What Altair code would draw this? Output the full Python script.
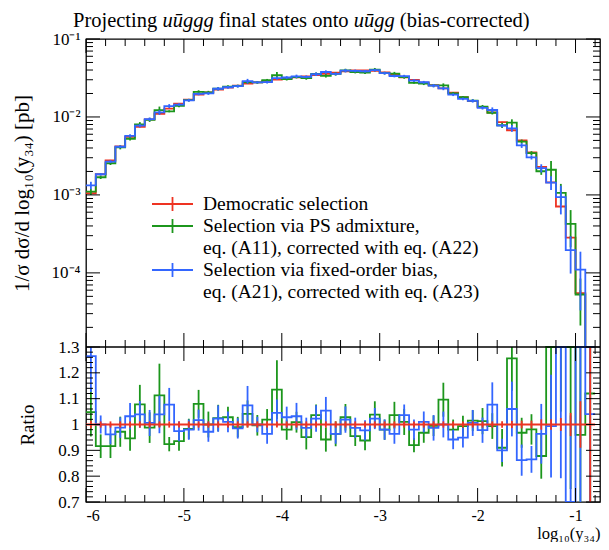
import altair as alt
import pandas as pd

FONT = "Liberation Serif"
RED = "#EE3322"
GREEN = "#1C961C"
BLUE = "#3366FF"

# ---------------- data ----------------
edges = [round(-6.0 + 0.1 * i, 1) for i in range(53)]
centers = [round(e + 0.05, 2) for e in edges[:-1]]

ref_vals = [1.05e-3, 1.84e-3, 2.78e-3, 4.2e-3, 5.55e-3, 7.45e-3, 9.3e-3, 1.1e-2, 1.28e-2, 1.48e-2,
            1.67e-2, 1.94e-2, 2.06e-2, 2.25e-2, 2.38e-2, 2.52e-2, 2.68e-2, 2.78e-2, 2.9e-2, 3.02e-2,
            3.12e-2, 3.22e-2, 3.32e-2, 3.45e-2, 3.58e-2, 3.7e-2, 3.85e-2, 3.95e-2, 3.95e-2, 3.9e-2,
            3.72e-2, 3.48e-2, 3.22e-2, 2.98e-2, 2.76e-2, 2.55e-2, 2.32e-2, 2.05e-2, 1.8e-2, 1.6e-2,
            1.34e-2, 1.14e-2, 8.6e-3, 6.75e-3, 5.0e-3, 3.5e-3, 2.29e-3, 1.45e-3, 7.1e-4, 2.84e-4,
            5.5e-5, 4e-6]

green_ratio = [1.048, 0.916, 0.916, 0.972, 0.946, 1.078, 0.988, 1.113, 0.924, 0.936,
               0.983, 1.08, 1.0, 1.025, 1.028, 0.99, 1.041, 0.997, 1.019, 1.135,
               0.98, 1.009, 0.951, 1.036, 0.942, 0.964, 1.028, 0.955, 0.938, 1.038,
               0.98, 1.036, 1.01, 0.92, 0.968, 0.995, 1.096, 0.98, 0.994, 1.015,
               1.013, 0.994, 0.91, 1.256, 0.968, 0.981, 0.878, 1.45, 1.5, 1.5,
               0.96, 1.12]

blue_ratio = [1.265, 1.0, 0.962, 0.988, 1.032, 1.039, 1.006, 1.039, 1.077, 0.974,
              0.98, 1.017, 0.972, 1.023, 1.01, 0.985, 1.074, 1.0, 0.964, 1.045,
              1.028, 1.032, 0.987, 1.023, 1.054, 0.964, 1.019, 0.987, 0.977, 1.023,
              0.98, 0.964, 1.036, 0.98, 1.01, 0.987, 1.0, 0.942, 0.949, 1.006,
              0.978, 1.077, 0.9, 1.06, 0.862, 0.865, 0.964, 0.994, 1.32, 0.69,
              2.0, 1.04]

ref_relerr = [0.015, 0.012, 0.012, 0.012, 0.012, 0.012, 0.012, 0.012, 0.012, 0.012,
              0.012, 0.012, 0.012, 0.012, 0.012, 0.012, 0.012, 0.012, 0.012, 0.012,
              0.012, 0.012, 0.012, 0.012, 0.012, 0.012, 0.012, 0.012, 0.012, 0.012,
              0.012, 0.012, 0.012, 0.012, 0.012, 0.012, 0.012, 0.012, 0.012, 0.012,
              0.012, 0.012, 0.013, 0.014, 0.015, 0.015, 0.02, 0.02, 0.025, 0.045,
              0.09, 0.8]

green_relerr = [0.09, 0.05, 0.05, 0.06, 0.05, 0.07, 0.06, 0.11, 0.03, 0.04,
                0.04, 0.05, 0.05, 0.05, 0.04, 0.04, 0.05, 0.04, 0.04, 0.10,
                0.04, 0.04, 0.05, 0.04, 0.05, 0.05, 0.05, 0.04, 0.04, 0.05,
                0.04, 0.05, 0.05, 0.03, 0.04, 0.04, 0.06, 0.04, 0.04, 0.04,
                0.05, 0.05, 0.08, 0.10, 0.06, 0.06, 0.10, 0.30, 0.30, 0.50,
                0.60, 0.80]

blue_relerr = [0.11, 0.035, 0.04, 0.04, 0.05, 0.05, 0.05, 0.07, 0.06, 0.04,
               0.04, 0.04, 0.04, 0.05, 0.04, 0.04, 0.07, 0.03, 0.04, 0.05,
               0.04, 0.05, 0.04, 0.05, 0.05, 0.04, 0.05, 0.04, 0.04, 0.04,
               0.04, 0.04, 0.04, 0.04, 0.04, 0.05, 0.05, 0.04, 0.04, 0.05,
               0.05, 0.08, 0.05, 0.10, 0.07, 0.06, 0.12, 0.20, 0.40, 0.50,
               0.70, 0.80]

legend_labels = ["Democratic selection",
                 "Selection via PS admixture,",
                 "eq. (A11), corrected with eq. (A22)",
                 "Selection via fixed-order bias,",
                 "eq. (A21), corrected with eq. (A23)"]

x_major = [-6, -5, -4, -3, -2, -1]
x_minor = [round(-6 + 0.2 * i, 1) for i in range(27) if abs(-6 + 0.2 * i - round(-6 + 0.2 * i)) > 1e-6]
ylog_major = [1e-1, 1e-2, 1e-3, 1e-4]
ylog_minor = [k * 10.0 ** d for d in (-5, -4, -3, -2) for k in range(2, 10) if k * 10.0 ** d > 1.12e-5]
yrat_major = [0.7, 0.8, 0.9, 1.0, 1.1, 1.2, 1.3]
yrat_minor = [round(0.7 + 0.02 * i, 2) for i in range(31) if i % 5 != 0]

# ---------------- layout ----------------
W, H1, H = 514, 308, 463
XS = alt.Scale(domain=[-6.0, -0.75], nice=False, zero=False)
YTOP = alt.Scale(type="log", domain=[1.12e-5, 0.1], range=[H1, 0], clamp=True, nice=False)
YRAT = alt.Scale(domain=[0.7, 1.3], range=[H, H1], clamp=True, nice=False, zero=False)
ONE = pd.DataFrame({"a": [0]})

x_axis = alt.Axis(orient="bottom", values=x_major,
                  labelExpr="'-' + format(abs(datum.value), 'd')",
                  ticks=False, tickSize=0, domain=False, grid=False, labelPadding=5,
                  labelFont=FONT, labelFontSize=16, labelColor="black",
                  title="log₁₀(y₃₄)", titleFont=FONT, titleFontSize=16.5, titleFontWeight="normal",
                  titleColor="black", titleAnchor="end", titleBaseline="alphabetic", titleY=36.5)


def X():
    return alt.X("x:Q", scale=XS, axis=x_axis)


def step(vals, color, scale, yaxis=None):
    df = pd.DataFrame({"x": edges, "y": list(vals) + [vals[-1]]})
    return alt.Chart(df).mark_line(interpolate="step-after", color=color, strokeWidth=1.8,
                                   clip=True).encode(
        x=X(), y=alt.Y("y:Q", scale=scale, axis=yaxis))


def errbars(vals, rel, color, scale):
    df = pd.DataFrame({"x": centers,
                       "lo": [v * (1 - r) for v, r in zip(vals, rel)],
                       "hi": [v * (1 + r) for v, r in zip(vals, rel)]})
    return alt.Chart(df).mark_rule(color=color, strokeWidth=1.8, clip=True).encode(
        x=X(), y=alt.Y("lo:Q", scale=scale, axis=None), y2="hi:Q")


def xticks(vals, y0, y1):
    return alt.Chart(pd.DataFrame({"x": vals})).mark_rule(color="black", strokeWidth=1).encode(
        x=X(), y=alt.value(y0), y2=alt.value(y1))


def yticks(vals, scale, x0, x1):
    return alt.Chart(pd.DataFrame({"y": vals})).mark_rule(color="black", strokeWidth=1).encode(
        y=alt.Y("y:Q", scale=scale, axis=None), x=alt.value(x0), x2=alt.value(x1))


green_vals = [r * g for r, g in zip(ref_vals, green_ratio)]
blue_vals = [r * b for r, b in zip(ref_vals, blue_ratio)]

top_axis = alt.Axis(orient="left", values=ylog_major,
                    labelExpr="datum.value > 0.05 ? '10⁻¹' : datum.value > 0.005 ? '10⁻²' : datum.value > 0.0005 ? '10⁻³' : '10⁻⁴'",
                    ticks=False, tickSize=0, domain=False, grid=False, labelPadding=6,
                    labelFont=FONT, labelFontSize=17, labelColor="black",
                    title="1/σ dσ/d log₁₀(y₃₄) [pb]", titleFont=FONT, titleFontSize=21,
                    titleFontWeight="normal", titleColor="black", titleAngle=270,
                    titleBaseline="alphabetic", titleX=-58)
rat_axis = alt.Axis(orient="left", values=yrat_major,
                    labelExpr="datum.value == 1 ? '1' : format(datum.value, '.1f')",
                    ticks=False, tickSize=0, domain=False, grid=False, labelPadding=7,
                    labelFont=FONT, labelFontSize=17, labelColor="black",
                    title="Ratio", titleFont=FONT, titleFontSize=19, titleFontWeight="normal",
                    titleColor="black", titleAngle=270, titleBaseline="alphabetic", titleX=-53)

layers = []
# upper panel
layers.append(step(ref_vals, RED, YTOP, yaxis=top_axis))
layers.append(errbars(ref_vals, ref_relerr, RED, YTOP))
layers.append(step(green_vals, GREEN, YTOP))
layers.append(errbars(green_vals, green_relerr, GREEN, YTOP))
layers.append(step(blue_vals, BLUE, YTOP))
layers.append(errbars(blue_vals, blue_relerr, BLUE, YTOP))
# ratio panel
layers.append(step(green_ratio, GREEN, YRAT))
layers.append(errbars(green_ratio, green_relerr, GREEN, YRAT))
layers.append(step(blue_ratio, BLUE, YRAT))
layers.append(errbars(blue_ratio, blue_relerr, BLUE, YRAT))
layers.append(step([1.0] * len(ref_vals), RED, YRAT, yaxis=rat_axis))
layers.append(errbars([1.0] * len(ref_vals), ref_relerr, RED, YRAT))

# ticks
MAJ, MIN = 14, 7
for (y0, sgn) in [(0, 1), (H1, -1), (H1, 1), (H, -1)]:
    layers.append(xticks(x_major, y0, y0 + sgn * MAJ))
    layers.append(xticks(x_minor, y0, y0 + sgn * MIN))
for scale, maj, mn in [(YTOP, ylog_major, ylog_minor), (YRAT, yrat_major, yrat_minor)]:
    layers.append(yticks(maj, scale, 0, MAJ))
    layers.append(yticks(mn, scale, 0, MIN))
    layers.append(yticks(maj, scale, W, W - MAJ))
    layers.append(yticks(mn, scale, W, W - MIN))

# panel separator
layers.append(alt.Chart(ONE).mark_rule(color="black", strokeWidth=1.3).encode(
    x=alt.value(0), x2=alt.value(W), y=alt.value(H1)))

# legend
LS = 19.5
leg_colors = [RED, GREEN, None, BLUE, None]
leg_y = [165, 187, 209, 231, 253]
for lab, col, yy in zip(legend_labels, leg_colors, leg_y):
    if col is not None:
        layers.append(alt.Chart(ONE).mark_rule(color=col, strokeWidth=1.8).encode(
            x=alt.value(66), x2=alt.value(107), y=alt.value(yy)))
        layers.append(alt.Chart(ONE).mark_rule(color=col, strokeWidth=1.8).encode(
            x=alt.value(86.5), y=alt.value(yy - 7), y2=alt.value(yy + 7)))
    layers.append(alt.Chart(ONE).mark_text(align="left", baseline="middle", font=FONT,
                                           fontSize=LS, color="black").encode(
        x=alt.value(117), y=alt.value(yy), text=alt.value(lab)))

# title pieces (upright / italic); offsets in em
TS = 20.5
title_pieces = [("Projecting", "normal", 0.0), ("uūggg", "italic", 4.361),
                ("final states onto", "normal", 7.111), ("uūgg", "italic", 13.694),
                ("(bias-corrected)", "normal", 15.944)]
for txt, style, off in title_pieces:
    layers.append(alt.Chart(ONE).mark_text(align="left", baseline="alphabetic", font=FONT,
                                           fontSize=TS, fontStyle=style, color="black").encode(
        x=alt.value(-13 + off * TS), y=alt.value(-12.5), text=alt.value(txt)))

chart = alt.layer(*layers).resolve_scale(y="independent").properties(
    width=W, height=H, padding={"left": 78, "top": 31, "right": 1, "bottom": 40},
    autosize=alt.AutoSizeParams(type="none"),
).configure_view(stroke="black", strokeWidth=1.3).configure_axis(grid=False)

chart.save("out.html", embed_options={"renderer": "svg", "actions": False})
